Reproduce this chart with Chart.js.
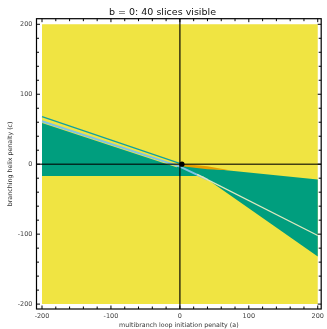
<!DOCTYPE html>
<html>
<head>
<meta charset="utf-8">
<script src="https://cdn.jsdelivr.net/npm/chart.js@4/dist/chart.umd.min.js"></script>
<style>
  html, body { margin: 0; padding: 0; background: #ffffff; }
  #wrap { width: 327px; height: 329px; }
</style>
</head>
<body>
<div id="wrap"><canvas id="c" width="327" height="329"></canvas></div>
<script>
// Axis ticks (a = multibranch loop initiation penalty, c = branching helix penalty)
const xTicks = [-200, -100, 0, 100, 200];
const yTicks = [-200, -100, 0, 100, 200];

// Sampled parameter square
const squareX = [-200, 200, 200, -200, -200];
const squareY = [-200, -200, 200, 200, -200];

// Green optimal-structure region
const tealX = [-200, -5, 3, 200, 200, 33, -200, -200];
const tealY = [59, -4.4, -2.3, -22, -132, -17, -17, 59];

// Orange sliver right of the origin
const orangeX = [3, 40, 72, 40, 3, 3];
const orangeY = [0.5, -2.8, -8.5, -7.2, -3, 0.5];

// Thin boundary slices
const blueX = [-200, 0, 40];
const blueY = [61.5, -3.5, -22];
const paleX = [25, 200];
const paleY = [-14.5, -102];
const cyanX = [-200, 3];
const cyanY = [68, 0];

// Default parameter point
const originX = [3];
const originY = [0];

const pts = (xs, ys) => xs.map((x, i) => ({ x: x, y: ys[i] }));

const X_MIN = -208, X_MAX = 205, Y_MIN = -207, Y_MAX = 208;

const polygon = (xs, ys, color, order) => ({
  data: pts(xs, ys), showLine: true, fill: 'shape', backgroundColor: color,
  borderColor: 'transparent', borderWidth: 0, pointRadius: 0, order: order
});
const stroke = (xs, ys, color, width, order) => ({
  data: pts(xs, ys), showLine: true, fill: false, borderColor: color,
  borderWidth: width, pointRadius: 0, order: order
});

// Frame and inward tick marks on all four sides
const framePlugin = {
  id: 'frame',
  afterDatasetsDraw(chart) {
    const { ctx, chartArea: a, scales } = chart;
    ctx.save();
    ctx.strokeStyle = '#000';
    ctx.lineWidth = 1.2;
    ctx.strokeRect(a.left, a.top, a.right - a.left, a.bottom - a.top);
    ctx.lineWidth = 1;
    for (let v = -200; v <= 200; v += 20) {
      const len = v % 100 === 0 ? 3.5 : 2.5;
      const px = scales.x.getPixelForValue(v);
      const py = scales.y.getPixelForValue(v);
      ctx.beginPath();
      ctx.moveTo(px, a.bottom); ctx.lineTo(px, a.bottom - len);
      ctx.moveTo(px, a.top); ctx.lineTo(px, a.top + len);
      ctx.moveTo(a.left, py); ctx.lineTo(a.left + len, py);
      ctx.moveTo(a.right, py); ctx.lineTo(a.right - len, py);
      ctx.stroke();
    }
    ctx.restore();
  }
};

new Chart(document.getElementById('c'), {
  type: 'scatter',
  data: {
    datasets: [
      polygon(squareX, squareY, '#F0E442', 20),
      polygon(tealX, tealY, '#009E7E', 19),
      polygon(orangeX, orangeY, '#E69F00', 18),
      stroke(blueX, blueY, '#7EC3E6', 2, 17),
      stroke(paleX, paleY, '#dfe8bf', 1.2, 16),
      stroke(cyanX, cyanY, '#10A0A0', 1.3, 15),
      stroke([0, 0], [Y_MIN, Y_MAX], 'rgba(0,0,0,0.78)', 1.5, 3),
      stroke([X_MIN, X_MAX], [0, 0], 'rgba(0,0,0,0.72)', 1.6, 2),
      { data: pts(originX, originY), pointRadius: 2.6, pointStyle: 'circle',
        pointBackgroundColor: '#000', pointBorderColor: '#000',
        pointBorderWidth: 0, showLine: false, order: 1 }
    ]
  },
  options: {
    responsive: false,
    animation: false,
    layout: { padding: { left: 0, right: 2, top: 0, bottom: 0 } },
    plugins: {
      legend: { display: false },
      tooltip: { enabled: false },
      title: {
        display: true,
        text: 'b = 0: 40 slices visible',
        color: '#111',
        font: { family: 'DejaVu Sans', size: 9.5, weight: 'normal' },
        padding: { top: 6.5, bottom: 0.8 }
      }
    },
    scales: {
      x: {
        type: 'linear', min: X_MIN, max: X_MAX,
        afterBuildTicks: s => { s.ticks = xTicks.map(v => ({ value: v })); },
        afterFit: s => { s.height = 20; },
        grid: { display: false, drawTicks: false },
        border: { display: false },
        ticks: { includeBounds: false, padding: 3, maxRotation: 0, autoSkip: false,
                 color: '#444', font: { family: 'DejaVu Sans', size: 6.5 } },
        title: { display: true, text: 'multibranch loop initiation penalty (a)', color: '#333',
                 font: { family: 'DejaVu Sans', size: 6.3 }, padding: { top: 0, bottom: 0 } }
      },
      y: {
        type: 'linear', min: Y_MIN, max: Y_MAX,
        afterBuildTicks: s => { s.ticks = yTicks.map(v => ({ value: v })); },
        afterFit: s => { s.width = 36.5; },
        grid: { display: false, drawTicks: false },
        border: { display: false },
        ticks: { includeBounds: false, padding: 4, autoSkip: false,
                 color: '#444', font: { family: 'DejaVu Sans', size: 6.5 } },
        title: { display: true, text: 'branching helix penalty (c)', color: '#333',
                 font: { family: 'DejaVu Sans', size: 6.3 }, padding: { top: 7, bottom: 0 } }
      }
    }
  },
  plugins: [framePlugin]
});
</script>
</body>
</html>
